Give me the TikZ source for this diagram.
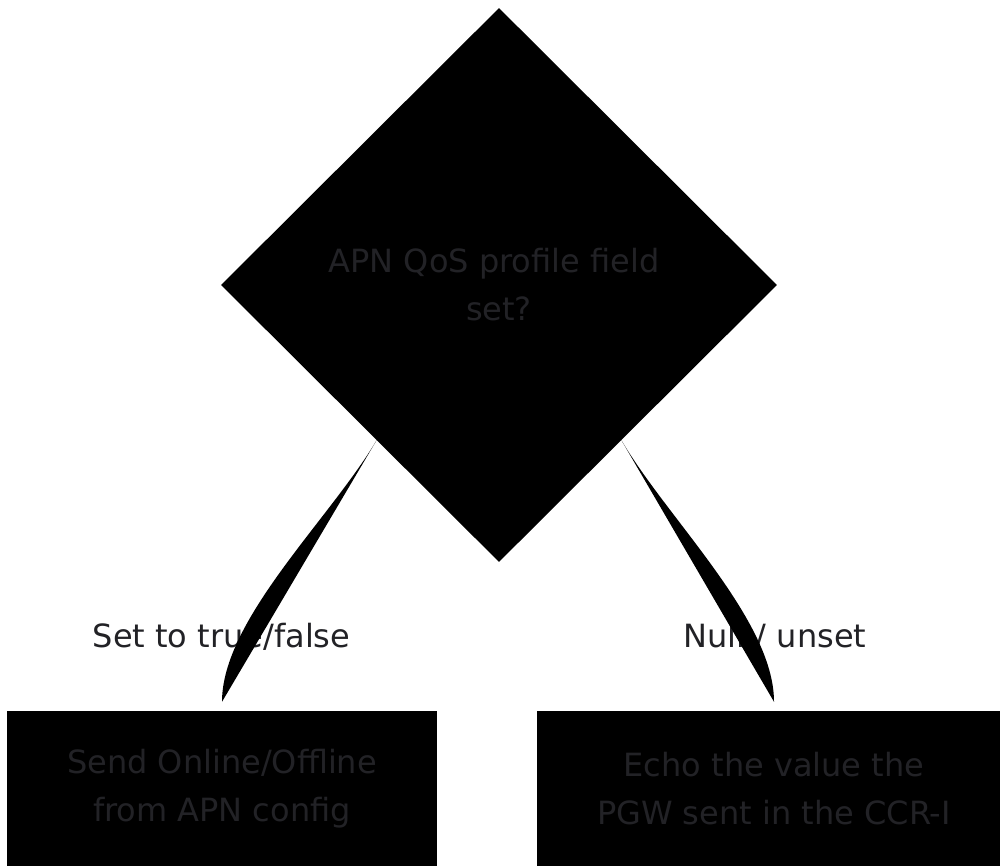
\documentclass[tikz,border=0pt]{standalone}
\usepackage{fontspec}
\setmainfont{DejaVu Sans}
\usetikzlibrary{shapes.geometric,calc}
\definecolor{txt}{RGB}{34,34,38}
\begin{document}
\begin{tikzpicture}[x=1pt,y=-1pt,
  every node/.style={font=\fontsize{32}{48}\selectfont, text=txt, inner sep=0pt},
  decision/.style={diamond, fill=black, draw=none, aspect=1,
    minimum width=556pt, minimum height=554pt, align=center},
  action/.style={rectangle, fill=black, draw=none, minimum width=#1,
    minimum height=156pt, align=center},
  branch/.style={fill=black, draw=none}]
  \clip (0,0) rectangle (1000,866);
  \fill[white] (0,0) rectangle (1000,866);

  % decision and the two outcomes
  \node[decision] (q) at (499,285) {APN QoS profile field\hspace*{10pt}\\set?};
  \node[action=430pt] (lb) at (222,789) {Send Online/Offline\\from APN config};
  \node[action=474pt] (rb) at (774,789) {Echo the value the\\PGW sent in the CCR-I};

  % branch labels
  \node (ll) at (221.5,637) {Set to true/false};
  \node (rl) at (775,637) {Null / unset};

  % tapered branch connectors
  \coordinate (ls) at ($(q.west)!0.56!(q.south)$);
  \coordinate (rs) at ($(q.east)!0.56!(q.south)$);
  \coordinate (le) at ([yshift=9pt]lb.north);
  \coordinate (re) at ([yshift=9pt]rb.north);
  \fill[branch] (ls) .. controls ($(ls)!0.3!(le)$) and ($(le)+(0,-82)$) .. (le) -- cycle;
  \fill[branch] (rs) .. controls ($(rs)!0.3!(re)$) and ($(re)+(0,-82)$) .. (re) -- cycle;
\end{tikzpicture}
\end{document}
